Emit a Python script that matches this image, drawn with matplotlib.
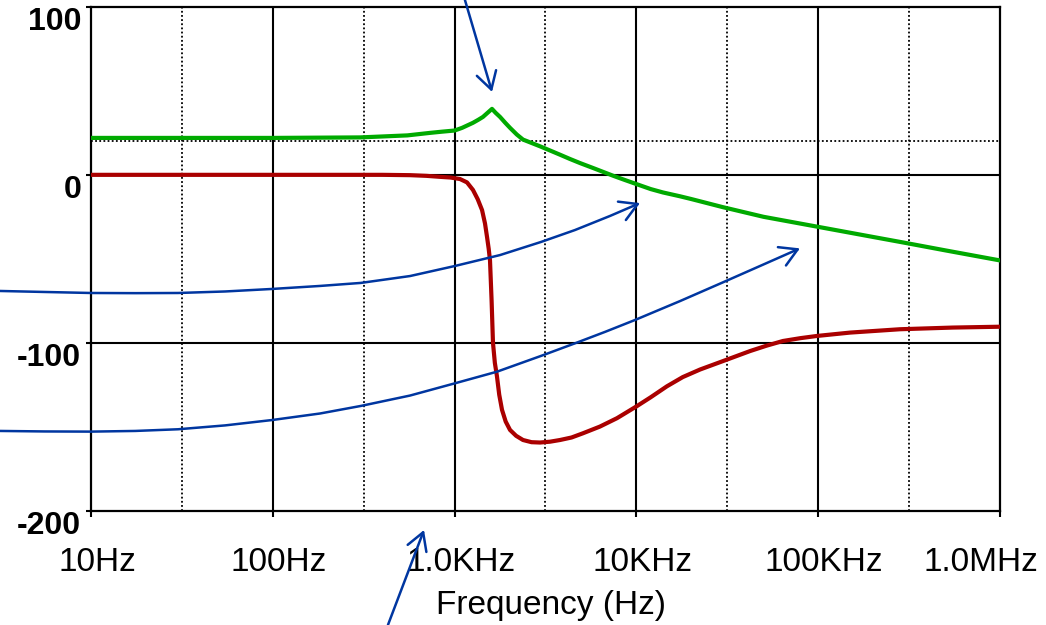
import numpy as np
import matplotlib.pyplot as plt
from matplotlib.patches import FancyArrowPatch
from matplotlib.path import Path
from matplotlib.transforms import ScaledTranslation

plt.rcParams['font.family'] = ['Liberation Sans', 'DejaVu Sans']

# ---------- data ----------
green_freq = [10, 100, 302, 389, 550, 733, 850, 1000, 1100, 1262, 1350, 1432, 1520,
              1606, 1680, 1778, 1900, 2018, 2200, 2379, 2650, 2950, 3350, 3800, 4300,
              4900, 5800, 7430, 8600, 10000, 12000, 14000, 17400, 20000, 30000, 50000,
              100000, 200000, 300000, 500000, 1000000]
green_val = [22, 22, 22.3, 22.8, 23.5, 25, 25.7, 26.4, 28, 31, 32.8, 34.5, 37,
             39.3, 37, 34.5, 31, 28, 24, 21, 19, 17, 14.5, 12, 9.5,
             7, 4, -0.5, -3, -5.5, -8.5, -10.5, -12.8, -14.4, -19.3, -25,
             -31, -37, -40.5, -45, -51]

red_freq = [10, 400, 569, 700, 832, 950, 1071, 1170, 1262, 1340, 1416, 1470, 1508,
            1540, 1566, 1598, 1626, 1665, 1710, 1760, 1823, 1910, 2018, 2180, 2379,
            2650, 2950, 3350, 3800, 4400, 5080, 6300, 7820, 10000, 12000, 14720,
            18000, 22400, 29900, 42200, 52000, 64000, 80000, 98500, 149600, 282000,
            550000, 1000000]
red_val = [0, 0, -0.2, -0.6, -1.2, -1.6, -2.5, -4.5, -9, -14.5, -21, -29, -37,
           -44, -51, -75, -100, -112, -120, -131, -140, -147, -152, -155.5, -158,
           -159.3, -159.5, -159, -158, -156.5, -154, -150, -145, -138, -132.5, -126,
           -120.5, -116, -111, -105, -101.8, -99, -97.3, -96, -94, -92,
           -91, -90.5]

freq_ticks = [10, 100, 1000, 10000, 100000, 1000000]
freq_labels = ['10Hz', '100Hz', '1.0KHz', '10KHz', '100KHz', '1.0MHz']
half_decades = [31.6, 316, 3162, 31623, 316228]
y_ticks = [-200, -100, 0, 100]
y_labels = ['-200', '-100', '0', '100']

# annotation arrows (Hz, value), tails sit outside the plot area
arrow_mid_f = [3.16, 5.58, 10, 17.5, 30.1, 54.6, 99, 182, 305, 569, 1005, 1778,
               2987, 4592, 7160, 10470]
arrow_mid_v = [-69.2, -69.8, -70.4, -70.5, -70.4, -69.5, -68.0, -66.2, -64.4, -60.3,
               -54.3, -47.8, -40.0, -32.9, -24.5, -16.8]
arrow_low_f = [3.16, 5.58, 10, 17.5, 30.1, 54.6, 99, 182, 305, 569, 1005, 1710,
               2987, 4592, 6714, 9820, 17400, 29580, 47900, 79400]
arrow_low_v = [-152.6, -152.9, -153.0, -152.6, -151.6, -149.3, -146.1, -142.2,
               -137.7, -131.5, -124.2, -117.3, -107.9, -100.4, -93.6, -86.5, -75.2,
               -64.3, -54.3, -43.8]
arrow_top = [(1140, 104.2), (1607, 49.4)]
arrow_bot = [(430, -268.2), (679, -211.6)]

GREEN = '#00AA00'
RED = '#AA0000'
BLUE = '#0036A0'

fig = plt.figure(figsize=(10.46, 6.25), dpi=100)
ax = fig.add_axes([0.087, 0.1832, 0.869, 0.8056])
ax.set_xscale('log')
ax.set_xlim(10, 1e6)
ax.set_ylim(-200, 100)

# grid
for f in freq_ticks[1:-1]:
    ax.axvline(f, color='black', lw=1.5, zorder=1)
for f in half_decades:
    ax.axvline(f, color='black', lw=1.3, ls=(0, (1, 1.3)), zorder=1)
for v in [0, -100]:
    ax.axhline(v, color='black', lw=1.5, zorder=1)
ax.axhline(20, color='black', lw=1.3, ls=(0, (1, 1.3)), zorder=1)

# curves
ax.plot(green_freq, green_val, color=GREEN, lw=3.0, zorder=3, solid_joinstyle='round')
ax.plot(red_freq, red_val, color=RED, lw=3.0, zorder=3, solid_joinstyle='round')

# arrows
astyle = '->,head_length=0.62,head_width=0.36'
for fs, vs in [(arrow_mid_f, arrow_mid_v), (arrow_low_f, arrow_low_v)]:
    p = FancyArrowPatch(path=Path(np.column_stack([fs, vs])), arrowstyle=astyle,
                        mutation_scale=20, color=BLUE, lw=1.8,
                        transform=ax.transData, clip_on=False, zorder=4)
    ax.add_patch(p)
for tail, head in [arrow_top, arrow_bot]:
    ax.annotate('', xy=head, xytext=tail, annotation_clip=False,
                arrowprops=dict(arrowstyle=astyle, mutation_scale=20,
                                color=BLUE, lw=1.8, shrinkA=0, shrinkB=0),
                zorder=4)

# axes frame and ticks
for s in ax.spines.values():
    s.set_linewidth(1.6)
ax.set_xticks(freq_ticks)
ax.set_xticks([], minor=True)
ax.set_xticklabels([])
ax.tick_params(axis='x', direction='out', length=4, width=1.5)
ax.set_yticks(y_ticks)
ax.set_yticklabels(y_labels, fontsize=23, fontweight='bold', va='top')
ax.tick_params(axis='y', direction='out', length=3.5, width=1.5, pad=3.5)

xtrans = ax.get_xaxis_transform()
for i, (f, lab) in enumerate(zip(freq_ticks, freq_labels)):
    if i == len(freq_ticks) - 1:
        t = xtrans + ScaledTranslation(0.38, 0, fig.dpi_scale_trans)
        ax.text(f, -0.1202, lab, transform=t, ha='right', va='baseline', fontsize=24)
    else:
        t = xtrans + ScaledTranslation(0.06, 0, fig.dpi_scale_trans)
        ax.text(f, -0.1202, lab, transform=t, ha='center', va='baseline', fontsize=24)

ax.set_xlabel('Frequency (Hz)', fontsize=24)
ax.xaxis.set_label_coords(0.506, -0.1877)
ax.xaxis.label.set_va('center')

fig.savefig('out.png', dpi=100)
